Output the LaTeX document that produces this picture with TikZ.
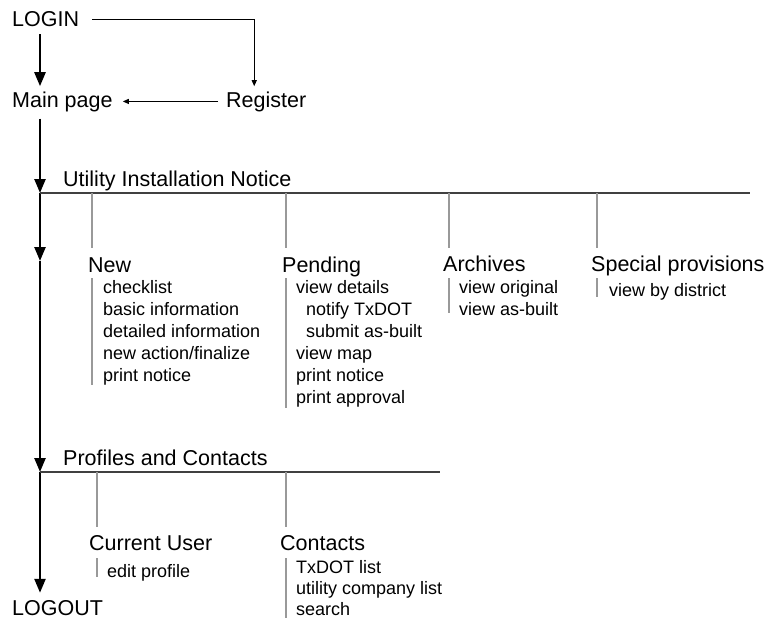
\documentclass[tikz,border=0pt]{standalone}
\usepackage{fontspec}
\setmainfont{Liberation Sans}
\usetikzlibrary{arrows.meta}

\begin{document}
\begin{tikzpicture}[
  x=1pt, y=-1pt,
  page/.style={
    anchor=base west, inner sep=0pt,
    font=\fontsize{21.5}{24}\selectfont
  },
  item/.style={
    anchor=base west, inner sep=0pt,
    font=\fontsize{18}{21}\selectfont
  },
  spine/.style={
    line width=2.4pt,
    -{Triangle[length=14pt, width=11pt]}
  },
  jump/.style={
    line width=1.1pt,
    -{Triangle[length=6pt, width=5pt]}
  },
  rail/.style={draw=black!75, line width=1.4pt},
  tick/.style={draw=black!40, line width=1.3pt}
]
  \useasboundingbox (0,0) rectangle (770,618);

  % top of the site
  \node[page] (login) at (12,27){LOGIN};
  \node[page] (main) at (12,107){Main page};
  \node[page] (register) at (226,107){Register};
  \draw[jump] ([xshift=13pt]login.east) -| ([xshift=-12pt, yshift=5pt]register.north);
  \draw[jump] ([xshift=-8pt]register.west) -- ([xshift=10pt]main.east);

  % main spine
  \coordinate (uin) at (40,193);
  \coordinate (mid) at (40,261);
  \coordinate (prof) at (40,472);
  \node[page] (logout) at (12,615){LOGOUT};
  \draw[spine] ([yshift=-7pt]login.south -| uin) -- ([yshift=5pt]main.north -| uin);
  \draw[spine] ([yshift=-7pt]main.south -| uin) -- (uin);
  \draw[spine] (uin) -- (mid);
  \draw[spine] (mid) -- (prof);
  \draw[spine] (prof) -- ([yshift=7pt]logout.north -| prof);

  % Utility Installation Notice
  \node[page] (uintext) at (63,186){Utility Installation Notice};
  \coordinate (uinend) at (750,193);
  \draw[rail] (uin) -- (uinend);
  \foreach \x in {92,286,449,597} {
    \draw[tick] (\x,193) -- (\x,248);
  }

  \node[page] (new) at (88,272){New};
  \draw[tick] (92,278) -- (92,385);
  \foreach \txt [count=\i] in {checklist, basic information,
      detailed information, new action/finalize, print notice} {
    \node[item] at (103,271+22*\i){\txt};
  }

  \node[page] (pending) at (282,272){Pending};
  \draw[tick] (286,278) -- (286,408);
  \node[item] at (296,293){view details};
  \node[item] at (306,315){notify TxDOT};
  \node[item] at (306,337){submit as-built};
  \node[item] at (296,359){view map};
  \node[item] at (296,381){print notice};
  \node[item] at (296,403){print approval};

  \node[page] (archives) at (443,271){Archives};
  \draw[tick] (449,278) -- (449,313);
  \node[item] at (459,293){view original};
  \node[item] at (459,315){view as-built};

  \node[page] (special) at (591,271){Special provisions};
  \draw[tick] (597,278) -- (597,297);
  \node[item] at (609,296){view by district};

  % Profiles and Contacts
  \node[page] (proftext) at (63,465){Profiles and Contacts};
  \coordinate (profend) at (440,472);
  \draw[rail] (prof) -- (profend);
  \foreach \x in {97,286} {
    \draw[tick] (\x,472) -- (\x,527);
  }

  \node[page] (user) at (89,550){Current User};
  \draw[tick] (97,558) -- (97,577);
  \node[item] at (107,577){edit profile};

  \node[page] (contacts) at (280,550){Contacts};
  \draw[tick] (286,558) -- (286,618);
  \node[item] at (296,573){TxDOT list};
  \node[item] at (296,594){utility company list};
  \node[item] at (296,615){search};
\end{tikzpicture}
\end{document}
